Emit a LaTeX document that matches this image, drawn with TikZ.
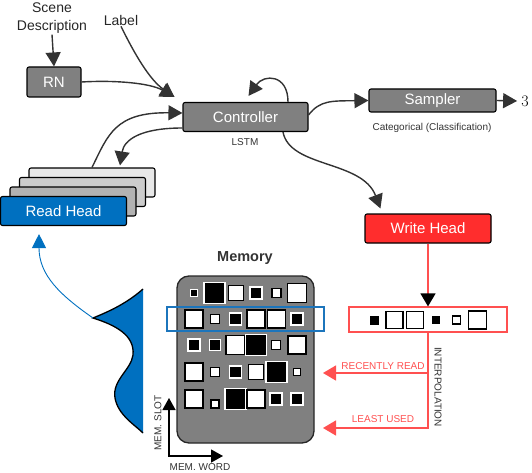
\documentclass[tikz,border=0pt]{standalone}
\usepackage{fontspec}
\setsansfont{Liberation Sans}
\usetikzlibrary{arrows.meta}
\definecolor{boxgray}{RGB}{128,128,128}
\definecolor{linegray}{RGB}{51,51,51}
\definecolor{headblue}{RGB}{0,112,192}
\definecolor{slotblue}{RGB}{28,117,188}
\definecolor{headred}{RGB}{255,45,45}
\definecolor{linered}{RGB}{255,80,80}
\begin{document}
\begin{tikzpicture}[x=1pt,y=-1pt,font=\sffamily]
  \tikzstyle{block}=[draw=black, fill=boxgray, rounded corners=2pt, line width=1.1pt, text=white, font=\sffamily\fontsize{15}{18}\selectfont, inner sep=0pt]
  \tikzstyle{card}=[block, minimum width=126pt, minimum height=29pt]
  \tikzstyle{plain}=[text=black!85, font=\sffamily\fontsize{14}{18}\selectfont, inner sep=1pt]
  \tikzstyle{small}=[text=black!80, font=\sffamily\fontsize{10}{12}\selectfont, inner sep=1pt]
  \tikzstyle{conn}=[draw=linegray, line width=1.4pt, -{Triangle[length=14pt,width=15pt]}]
  \tikzstyle{redline}=[draw=linered, line width=1.4pt]
  \tikzstyle{wsq}=[draw=black, fill=white, line width=1.2pt, inner sep=0pt]
  \tikzstyle{bsq}=[draw=white, fill=black, line width=1.2pt, inner sep=0pt]
  \useasboundingbox (0,0) rectangle (532,473);

  \node[plain, align=center] (scene) at (52,18) {Scene\\Description};
  \node[plain] (label) at (121,20) {Label};
  \node[block, minimum width=54pt, minimum height=30pt] (rn) at (54,82) {RN};
  \node[block, minimum width=125pt, minimum height=29pt] (ctrl) at (245.5,117) {Controller};
  \node[small] (lstm) at (245,142) {LSTM};
  \node[block, minimum width=127pt, minimum height=23pt] (smp) at (432.5,100.5) {Sampler};
  \node[small] (cat) at (432,128) {Categorical (Classification)};
  \node[text=black, font=\rmfamily\fontsize{16}{19}\selectfont, inner sep=4pt] (three) at (525,101) {3};
  \node[block, fill=headred, minimum width=126pt, minimum height=29pt] (whd) at (428,228.5) {Write Head};

  \node[card, fill=black!9] (rh1) at (92,182.5) {};
  \node[card, fill=black!20] (rh2) at (82.5,192) {};
  \node[card, fill=black!30] (rh3) at (73,201.5) {};
  \node[card, fill=headblue] (rh) at (63.5,211) {Read Head};

  \coordinate (ctrlin) at ([xshift=-8pt,yshift=5pt]ctrl.north west);
  \draw[conn] (scene.south) -- (rn.north);
  \draw[conn] (rn.east) .. controls (115,80) and (150,83) .. (ctrlin);
  \draw[conn] (label.south) .. controls (135,55) and (150,80) .. (ctrlin);
  \draw[conn] (rh1.north) .. controls (108,135) and (115,112) .. ([yshift=4pt]ctrl.west);
  \draw[conn] ([yshift=-11pt]ctrl.west) .. controls (140,128) and (124,140) .. ([xshift=28pt,yshift=2pt]rh1.north);
  \draw[conn] ([xshift=42.5pt]ctrl.north) .. controls (288,74) and (264,74) .. ([xshift=3pt,yshift=6pt]ctrl.north);
  \draw[conn] ([yshift=2pt]ctrl.east) .. controls (320,100) and (332,101) .. (smp.west);
  \draw[conn] (smp.east) -- (three.west);
  \draw[conn] ([xshift=37.5pt]ctrl.south) .. controls (290,168) and (362,160) .. ([xshift=16pt,yshift=5pt]whd.north west);

  \node[draw=linered, fill=white, line width=1.2pt, minimum width=158pt, minimum height=25pt, inner sep=0pt] (wvec) at (428,319.5) {};
  \node[fill=black, inner sep=0pt, minimum size=9pt] (w1) at (374.5,320) {};
  \node[wsq, minimum size=17pt] (w2) at (394.5,320) {};
  \node[wsq, minimum size=17pt] (w3) at (415,320) {};
  \node[fill=black, inner sep=0pt, minimum size=8pt] (w4) at (436,320) {};
  \node[wsq, minimum size=8pt] (w5) at (456.5,320) {};
  \node[wsq, minimum size=18pt] (w6) at (477.5,320) {};
  \draw[redline, -{Triangle[length=13pt,width=15pt,black]}] (whd.south) -- (wvec.north);

  \coordinate (rrfork) at (428,373);
  \coordinate (rrtip) at (323,373);
  \coordinate (lutip) at (323,428);
  \draw[redline, -{Triangle[length=13pt,width=15pt]}] (wvec.south) |- (lutip);
  \draw[redline, -{Triangle[length=13pt,width=15pt]}] (rrfork) -- (rrtip);
  \node[small, text=linered] (rr) at (383,366) {RECENTLY READ};
  \node[small, text=linered] (lu) at (383,419) {LEAST USED};
  \node[small, rotate=-90] (interp) at (438,387) {INTERPOLATION};

  \node[text=black!80, font=\sffamily\bfseries\fontsize{14.5}{17}\selectfont] (memtitle) at (245,258) {Memory};
  \node[draw=black!85, fill=boxgray, line width=1.3pt, rounded corners=12pt, minimum width=137pt, minimum height=167pt] (mem) at (245.5,359.5) {};

  \node[bsq, minimum size=7pt] (m11) at (194,293) {};
  \node[bsq, minimum size=21pt] (m12) at (214.5,293) {};
  \node[wsq, minimum size=15pt] (m13) at (236,293) {};
  \node[bsq, minimum size=12pt] (m14) at (256,293) {};
  \node[wsq, minimum size=9pt] (m15) at (276.5,293) {};
  \node[wsq, minimum size=19pt] (m16) at (297,293) {};

  \node[wsq, minimum size=18pt] (m21) at (194,319) {};
  \node[wsq, minimum size=9pt] (m22) at (215,319) {};
  \node[bsq, minimum size=12pt] (m23) at (235.5,319) {};
  \node[wsq, minimum size=18pt] (m24) at (256,319) {};
  \node[wsq, minimum size=18pt] (m25) at (276.5,319) {};
  \node[bsq, minimum size=12pt] (m26) at (297,319) {};

  \node[bsq, minimum size=12pt] (m31) at (194,345) {};
  \node[bsq, minimum size=11pt] (m32) at (215,345) {};
  \node[wsq, minimum size=19pt] (m33) at (235.5,345) {};
  \node[bsq, minimum size=21pt] (m34) at (256,345) {};
  \node[wsq, minimum size=9pt] (m35) at (276,345) {};
  \node[wsq, minimum size=18pt] (m36) at (297,345) {};

  \node[wsq, minimum size=18pt] (m41) at (194,372) {};
  \node[wsq, minimum size=9pt] (m42) at (215,372) {};
  \node[bsq, minimum size=12pt] (m43) at (235.5,372) {};
  \node[wsq, minimum size=15pt] (m44) at (256,372) {};
  \node[bsq, minimum size=21pt] (m45) at (276.5,372) {};
  \node[wsq, minimum size=7pt] (m46) at (297,372) {};

  \node[wsq, minimum size=18pt] (m51) at (194,399) {};
  \node[wsq, minimum size=8pt] (m52) at (215,404) {};
  \node[bsq, minimum size=21pt] (m53) at (235.5,399) {};
  \node[wsq, minimum size=18pt] (m54) at (256,399) {};
  \node[bsq, minimum size=12pt] (m55) at (276,399) {};
  \node[bsq, minimum size=12pt] (m56) at (297,399) {};

  \draw[slotblue, line width=1.3pt] (167,307) rectangle (324,331);

  \coordinate (slottip) at (169,398);
  \coordinate (wordtip) at (223,456);
  \draw[black, line width=1.3pt, {Triangle[length=12pt,width=13pt]}-{Triangle[length=12pt,width=13pt]}] (slottip) |- (wordtip);
  \node[small, rotate=90] (memslot) at (158,423) {MEM. SLOT};
  \node[small] (memword) at (200,467) {MEM. WORD};

  \fill[headblue] (143,289) .. controls (125,305) and (105,313) .. (93,318) .. controls (115,325) and (135,335) .. (133,355) .. controls (131,370) and (112,380) .. (115,398) .. controls (118,415) and (135,425) .. (143,433) -- cycle;
  \draw[black, line width=1.3pt] (143,289) .. controls (125,305) and (105,313) .. (93,318) .. controls (115,325) and (135,335) .. (133,355) .. controls (131,370) and (112,380) .. (115,398) .. controls (118,415) and (135,425) .. (143,433);
  \coordinate (peak) at (93,318);
  \draw[headblue, line width=0.9pt, -{Triangle[length=14pt,width=14pt]}] (peak) .. controls (60,295) and (39,275) .. ([xshift=-24.5pt,yshift=-8pt]rh.south);
\end{tikzpicture}
\end{document}
